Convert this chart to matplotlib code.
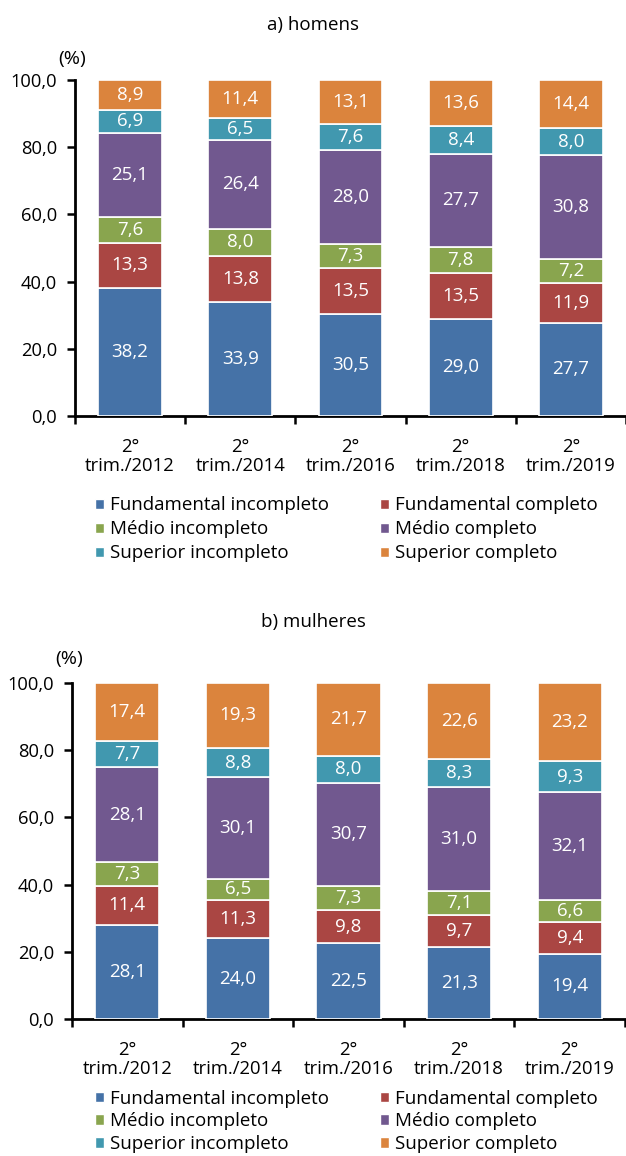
import matplotlib
matplotlib.use("Agg")
import matplotlib.pyplot as plt
from matplotlib.patches import Patch
import numpy as np

plt.rcParams['font.family'] = ['Open Sans', 'DejaVu Sans']

categories = ["2°\ntrim./2012", "2°\ntrim./2014", "2°\ntrim./2016", "2°\ntrim./2018", "2°\ntrim./2019"]
series_names = ["Fundamental incompleto", "Fundamental completo", "Médio incompleto",
                "Médio completo", "Superior incompleto", "Superior completo"]
colors = ["#4572A7", "#AA4643", "#89A54E", "#71588F", "#4198AF", "#DB843D"]

homens_fi = [38.2, 33.9, 30.5, 29.0, 27.7]
homens_fc = [13.3, 13.8, 13.5, 13.5, 11.9]
homens_mi = [7.6, 8.0, 7.3, 7.8, 7.2]
homens_mc = [25.1, 26.4, 28.0, 27.7, 30.8]
homens_si = [6.9, 6.5, 7.6, 8.4, 8.0]
homens_sc = [8.9, 11.4, 13.1, 13.6, 14.4]

mulheres_fi = [28.1, 24.0, 22.5, 21.3, 19.4]
mulheres_fc = [11.4, 11.3, 9.8, 9.7, 9.4]
mulheres_mi = [7.3, 6.5, 7.3, 7.1, 6.6]
mulheres_mc = [28.1, 30.1, 30.7, 31.0, 32.1]
mulheres_si = [7.7, 8.8, 8.0, 8.3, 9.3]
mulheres_sc = [17.4, 19.3, 21.7, 22.6, 23.2]

yticks = [0, 20, 40, 60, 80, 100]

W, H = 626, 1156
fig = plt.figure(figsize=(W / 100, H / 100), dpi=100)


def fmt(v):
    return f"{v:.1f}".replace(".", ",")


def panel(rect, data, title, title_y, pct_y, legend_y, labelspacing):
    ax = fig.add_axes(rect)
    x = np.arange(len(categories))
    bottom = np.zeros(len(categories))
    for vals, col in zip(data, colors):
        vals = np.array(vals)
        ax.bar(x, vals, 0.58, bottom=bottom, color=col, edgecolor="white", linewidth=1.2, zorder=3)
        for xi, b, v in zip(x, bottom, vals):
            ax.text(xi, b + v / 2, fmt(v), ha="center", va="center", color="white", fontsize=13.5, zorder=4)
        bottom = bottom + vals
    ax.set_xlim(-0.5, len(categories) - 0.5)
    ax.set_ylim(0, 100)
    ax.set_yticks(yticks)
    ax.set_yticklabels([fmt(v) for v in yticks], fontsize=13.2)
    ax.set_xticks(x)
    ax.set_xticklabels(categories, fontsize=13.3, linespacing=1.05)
    ax.set_xticks(np.arange(len(categories) + 1) - 0.5, minor=True)
    ax.tick_params(axis="x", which="major", length=0, pad=16)
    ax.tick_params(axis="x", which="minor", length=6, width=1.8, direction="out")
    ax.tick_params(axis="y", length=6, width=1.8, direction="out", pad=7)
    for s in ["top", "right"]:
        ax.spines[s].set_visible(False)
    for s in ["left", "bottom"]:
        ax.spines[s].set_linewidth(2)
    fig.text(0.5, title_y, title, ha="center", va="center", fontsize=13.5)
    fig.text(rect[0] - 0.005, pct_y, "(%)", ha="center", va="center", fontsize=14)
    handles = [Patch(facecolor=c, edgecolor="white") for c in colors]
    order = [0, 2, 4, 1, 3, 5]
    fig.legend([handles[i] for i in order], [series_names[i] for i in order],
               ncol=2, loc="upper left", bbox_to_anchor=(0.139, legend_y),
               frameon=False, fontsize=13.5, handlelength=0.5, handleheight=0.5,
               handletextpad=0.3, columnspacing=2.75, labelspacing=labelspacing, borderaxespad=0)
    return ax


panel([75 / W, 1 - 416 / H, (626 - 75) / W, 336 / H],
      [homens_fi, homens_fc, homens_mi, homens_mc, homens_si, homens_sc],
      "a) homens", 1 - 25 / H, 1 - 59 / H, 1 - 489 / H, 0.32)
panel([72 / W, 1 - 1019 / H, (625 - 72) / W, 336 / H],
      [mulheres_fi, mulheres_fc, mulheres_mi, mulheres_mc, mulheres_si, mulheres_sc],
      "b) mulheres", 1 - 622 / H, 1 - 659 / H, 1 - 1082 / H, 0.26)

fig.savefig("out.png", dpi=100)
